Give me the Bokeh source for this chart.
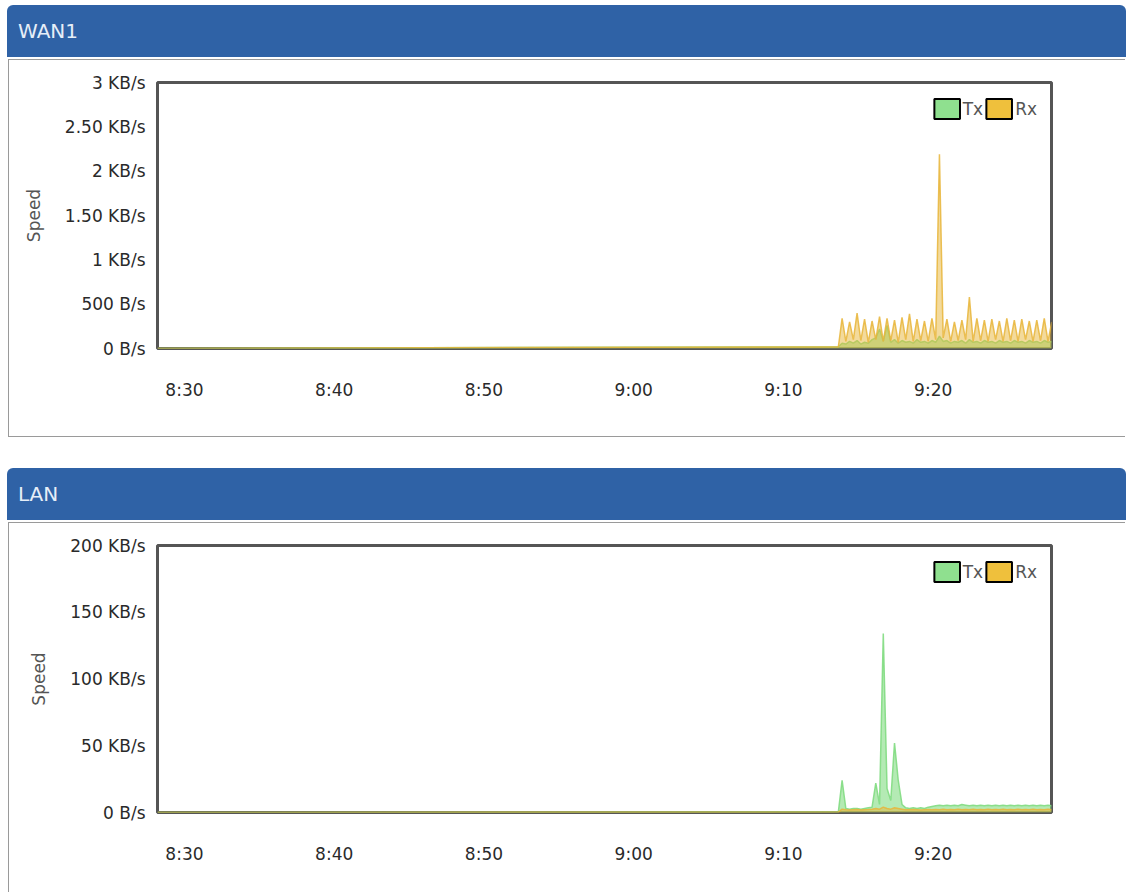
from bokeh.plotting import figure
from bokeh.models import Range1d, FixedTicker, Legend, LegendItem, Div, Spacer
from bokeh.layouts import column
from bokeh.embed import file_html
from bokeh.resources import INLINE

# ---------------- data ----------------
# x axis: minutes since midnight
x_tick_values = [510, 520, 530, 540, 550, 560]
x_tick_labels = ["8:30", "8:40", "8:50", "9:00", "9:10", "9:20"]
x_start = 508.2          # 8:28:12 (left edge of chart)
x_end = 567.9            # 9:27:54
idle_start = 508.2       # traffic is zero until sampling with traffic starts
active_start = 553 + 40 / 60.0   # 9:13:40
sample_step_min = 15 / 60.0      # 15 s samples

wan_y_ticks = [0, 0.5, 1, 1.5, 2, 2.5, 3]          # KB/s
wan_y_labels = ["0 B/s", "500 B/s", "1 KB/s", "1.50 KB/s", "2 KB/s", "2.50 KB/s", "3 KB/s"]
lan_y_ticks = [0, 50, 100, 150, 200]                # KB/s
lan_y_labels = ["0 B/s", "50 KB/s", "100 KB/s", "150 KB/s", "200 KB/s"]

# WAN1 (KB/s)
wan_rx = [
    0.02, 0.34, 0.08, 0.30, 0.10, 0.40, 0.09, 0.33, 0.07, 0.31,
    0.10, 0.36, 0.08, 0.34, 0.09, 0.32, 0.07, 0.35, 0.10, 0.39,
    0.08, 0.33, 0.09, 0.31, 0.08, 0.34, 0.10, 2.19, 0.12, 0.33,
    0.08, 0.30, 0.09, 0.32, 0.10, 0.58, 0.08, 0.34, 0.09, 0.32,
    0.08, 0.33, 0.10, 0.31, 0.08, 0.34, 0.09, 0.32, 0.08, 0.33,
    0.10, 0.31, 0.08, 0.32, 0.09, 0.34, 0.08, 0.30,
]
wan_tx = [
    0.02, 0.06, 0.05, 0.08, 0.06, 0.09, 0.05, 0.07, 0.06, 0.10,
    0.12, 0.22, 0.08, 0.26, 0.07, 0.10, 0.06, 0.09, 0.07, 0.08,
    0.06, 0.10, 0.07, 0.08, 0.06, 0.09, 0.07, 0.14, 0.08, 0.09,
    0.06, 0.08, 0.07, 0.09, 0.06, 0.10, 0.07, 0.08, 0.06, 0.09,
    0.07, 0.08, 0.06, 0.09, 0.07, 0.08, 0.06, 0.09, 0.07, 0.08,
    0.06, 0.09, 0.07, 0.08, 0.06, 0.09, 0.07, 0.08,
]
# LAN (KB/s)
lan_tx = [
    0.5, 24, 3, 2.5, 3, 3, 2.5, 3, 3.5, 4,
    22, 6, 134, 18, 9, 52, 24, 6, 3.5, 3,
    3.5, 3, 3.5, 3, 4, 4.5, 5, 5.5, 5, 5.5,
    5, 5.5, 5, 6, 5.5, 5, 5.5, 5, 5.5, 5,
    5.5, 5, 5.5, 5, 5.5, 5, 5.5, 5, 5.5, 5,
    5.5, 5, 5.5, 5, 5.5, 5, 5.5, 5,
]
lan_rx = [
    0.3, 2.5, 2, 1.8, 2, 2.2, 1.8, 2, 2.2, 2.5,
    3, 2.5, 4, 3, 2.5, 3.5, 3, 2.5, 2, 2,
    2.2, 2, 1.8, 2, 2.2, 2, 2.2, 2, 2.4, 2,
    2.2, 2, 2.4, 2, 2.2, 2, 2.4, 2, 2.2, 2,
    2.4, 2, 2.2, 2, 2.4, 2, 2.2, 2, 2.4, 2,
    2.2, 2, 2.4, 2, 2.2, 2, 2.4, 2,
]

# ---------------- styling ----------------
FONT = "DejaVu Sans"
HEADER_BG = "#2f62a6"
TX_COLOR = "#82dc82"
RX_COLOR = "#e8b53a"
TX_LEG = "#8fe08f"
RX_LEG = "#efc03c"
NAN = float("nan")


def times_for(n):
    return [idle_start] + [active_start + i * sample_step_min for i in range(n)]


def header(text, h):
    return Div(text=text, width=1119, height=h, margin=(0, 0, 0, 7),
               styles={"background-color": HEADER_BG, "color": "#e6eef8",
                       "font-family": FONT, "font-size": "20px",
                       "line-height": f"{h}px", "padding-left": "11px",
                       "border-radius": "6px 6px 0 0", "box-sizing": "border-box"})


def panel(tx, rx, y_max, y_ticks, y_labels, h, left, right, top, bottom, extra_style):
    st = {"border": "1px solid #9a9a9a", "border-right": "none", "box-sizing": "border-box"}
    st.update(extra_style)
    p = figure(width=1117, height=h, margin=(2, 0, 0, 8),
               x_range=Range1d(x_start, x_end), y_range=Range1d(0, y_max),
               output_backend="svg", toolbar_location=None,
               min_border_left=left, min_border_right=right,
               min_border_top=top, min_border_bottom=bottom,
               background_fill_color="white", border_fill_color="white",
               outline_line_color="#555555", outline_line_width=3,
               styles=st)
    p.grid.visible = False
    xs = times_for(len(tx))
    tx_v = [0] + tx
    rx_v = [0] + rx
    p.varea(x=xs, y1=0, y2=tx_v, fill_color=TX_COLOR, fill_alpha=0.6)
    p.line(x=xs, y=tx_v, line_color=TX_COLOR, line_width=1.5, line_alpha=0.9)
    p.varea(x=xs, y1=0, y2=rx_v, fill_color=RX_COLOR, fill_alpha=0.5)
    p.line(x=xs, y=rx_v, line_color=RX_COLOR, line_width=1.5, line_alpha=0.85)

    # axes
    p.xaxis.ticker = FixedTicker(ticks=x_tick_values)
    p.xaxis.major_label_overrides = {v: l for v, l in zip(x_tick_values, x_tick_labels)}
    p.yaxis.ticker = FixedTicker(ticks=y_ticks)
    p.yaxis.major_label_overrides = {v: l for v, l in zip(y_ticks, y_labels)}
    for ax in (p.xaxis, p.yaxis):
        ax.axis_line_color = None
        ax.major_tick_line_color = None
        ax.minor_tick_line_color = None
        ax.major_label_text_font = FONT
        ax.major_label_text_font_size = "17px"
        ax.major_label_text_color = "#2a2a2a"
    p.xaxis.major_label_standoff = 25
    p.yaxis.major_label_standoff = 6
    p.yaxis.axis_label = "Speed"
    p.yaxis.axis_label_text_font = FONT
    p.yaxis.axis_label_text_font_size = "17px"
    p.yaxis.axis_label_text_font_style = "normal"
    p.yaxis.axis_label_text_color = "#555555"
    p.yaxis.axis_label_standoff = 18

    # legend (boxed swatches; swatch glyphs have no drawable data)
    tx_sw = p.quad(left=[NAN], right=[NAN], top=[NAN], bottom=[NAN], fill_color=TX_LEG,
                   line_color="black", line_width=2)
    rx_sw = p.quad(left=[NAN], right=[NAN], top=[NAN], bottom=[NAN], fill_color=RX_LEG,
                   line_color="black", line_width=2)
    leg = Legend(items=[LegendItem(label="Tx", renderers=[tx_sw]),
                        LegendItem(label="Rx", renderers=[rx_sw])],
                 location="top_right", orientation="horizontal",
                 glyph_width=32, glyph_height=25, label_height=25,
                 label_standoff=0, spacing=0, padding=0, margin=14,
                 label_text_font=FONT, label_text_font_size="17px",
                 label_text_color="#555555",
                 border_line_alpha=0, background_fill_alpha=0)
    p.add_layout(leg)
    return p


h1 = header("WAN1", 52)
h1.margin = (5, 0, 0, 7)
p1 = panel(wan_tx, wan_rx, 3, wan_y_ticks, wan_y_labels, 378,
           148, 74, 22, 90, {})
gap = Spacer(width=1117, height=31, margin=0)
h2 = header("LAN", 52)
p2 = panel(lan_tx, lan_rx, 200, lan_y_ticks, lan_y_labels, 370,
           144, 75, 22, 81, {"border-bottom": "none"})

layout = column(h1, p1, gap, h2, p2, spacing=0)

with open("out.html", "w") as f:
    f.write(file_html(layout, INLINE))
